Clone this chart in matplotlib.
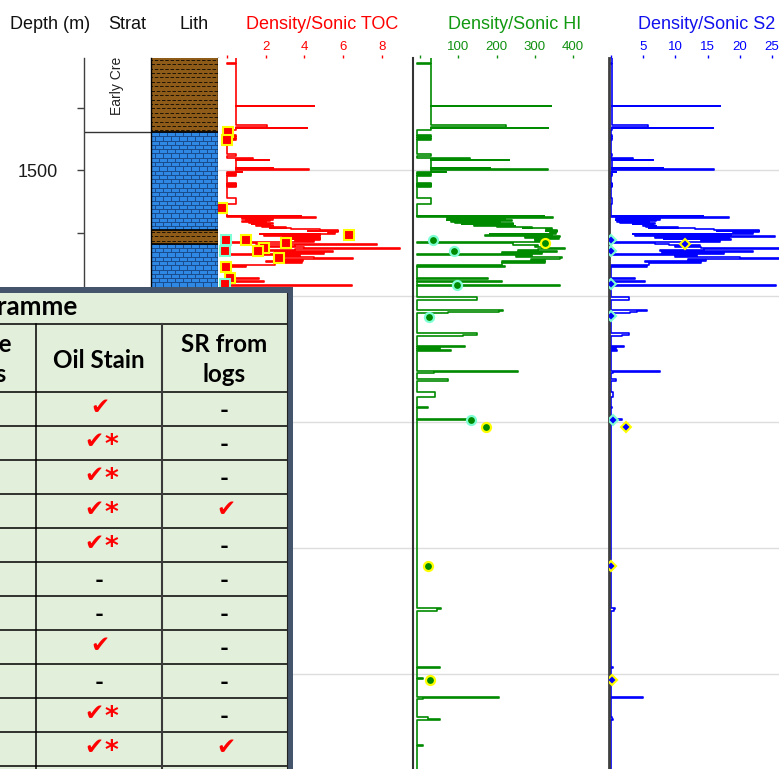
import matplotlib
matplotlib.use('Agg')
import matplotlib.pyplot as plt
from matplotlib.patches import Rectangle
from matplotlib.collections import LineCollection
import numpy as np

plt.rcParams['font.family'] = ['Liberation Sans', 'DejaVu Sans']

# ---------------- data ----------------
depth_m = [1410.0, 1414.3, 1415.6, 1448.5, 1449.0, 1463.8, 1465.4, 1465.9, 1466.5, 1467.8,
           1471.8, 1472.3, 1473.6, 1474.2, 1475.2, 1475.8, 1486.9, 1488.5, 1489.8, 1490.3,
           1490.9, 1491.4, 1491.9, 1497.7, 1498.3, 1498.8, 1499.3, 1500.9, 1501.4, 1502.3,
           1502.8, 1503.6, 1504.1, 1509.7, 1510.6, 1511.1, 1512.0, 1512.5, 1513.4, 1522.1,
           1526.6, 1535.9, 1536.4, 1537.2,
           1537.8, 1538.6, 1539.1, 1539.6, 1540.1, 1540.7, 1541.2, 1541.7, 1542.3, 1542.8,
           1543.3, 1543.9, 1544.4, 1544.9, 1545.4, 1546.0, 1546.5, 1547.0, 1547.8, 1548.4,
           1549.2, 1549.7, 1550.2, 1550.8, 1551.5, 1552.1, 1552.9, 1553.4, 1554.2, 1554.7,
           1555.5, 1556.0, 1556.8, 1557.2, 1557.9, 1558.7, 1559.2, 1560.0, 1560.8, 1561.9,
           1562.4, 1563.2, 1564.0, 1564.8, 1565.6, 1566.4, 1567.2, 1568.0, 1569.0, 1569.8,
           1570.6, 1571.4, 1572.2, 1573.0, 1573.8, 1574.9, 1575.9, 1576.5, 1585.2, 1586.0,
           1587.8, 1588.6, 1591.0, 1591.5, 1600.8, 1603.0, 1610.9, 1611.7, 1612.5, 1613.3,
           1629.5, 1631.0, 1631.8, 1639.3, 1640.0, 1640.8, 1641.6, 1642.7, 1643.5, 1659.4,
           1660.2, 1661.3, 1666.0, 1667.1, 1676.1, 1679.8, 1687.8, 1688.8, 1697.8, 1698.6,
           1848.1, 1848.9, 1849.9, 1895.0, 1895.8, 1903.7, 1904.5, 1918.3, 1919.4, 1920.2,
           1934.7, 1935.8, 1936.6, 1956.7, 1957.5, 1980.0]

toc = [0.45, 0.0, 0.45, 4.5, 0.45, 2.07, 0.45, 4.15, 0.45, 0.0,
       0.45, 0.0, 0.45, 0.0, 0.45, 0.0, 0.45, 0.0, 0.45, 1.32,
       0.45, 2.19, 0.45, 2.36, 0.45, 4.24, 0.45, 0.8, 0.0, 0.45,
       0.0, 0.45, 0.0, 0.45, 0.0, 0.45, 0.0, 0.45, 0.0, 0.45,
       0.0, 3.84, 0.0, 4.62,
       0.8, 2.36, 0.97, 2.2, 0.8, 2.0, 1.15, 2.36, 1.3, 2.2,
       1.5, 2.36, 1.8, 3.06, 2.2, 3.3, 4.8, 5.75, 4.2, 5.75,
       5.2, 5.6, 1.7, 4.8, 1.9, 4.8, 2.9, 4.8, 3.2, 4.8,
       3.5, 4.5, 0.6, 0.0, 1.5, 7.74, 3.5, 2.2, 4.0, 8.96,
       3.5, 2.0, 5.49, 2.5, 5.0, 0.0, 3.75, 3.0, 4.5, 6.53,
       3.0, 3.92, 2.0, 3.9, 2.5, 0.0, 0.97, 0.0, 1.67, 0.0,
       1.9, 0.0, 6.44, 0.0, 1.8, 0.0, 2.6, 2.3, 0.8, 0.0,
       1.5, 1.2, 0.0, 1.2, 0.0, 0.6, 0.0, 0.9, 0.0, 3.0,
       0.5, 0.0, 0.6, 0.0, 0.4, 0.0, 0.3, 0.0, 1.2, 0.0,
       0.6, 0.5, 0.0, 0.5, 0.0, 0.2, 0.0, 2.4, 0.2, 0.0,
       0.3, 0.5, 0.0, 0.2, 0.0, 0.0]

hi = [30, -9, 30, 341, 30, 224, 30, 334, 30, -9,
      30, -9, 30, -9, 30, -9, 30, -9, 30, 131,
      30, 233, 30, 183, 30, 335, 30, 68, -9, 30,
      -9, 30, -9, 30, -9, 30, -9, 30, -9, 30,
      -9, 325, -9, 346,
      70, 222, 70, 240, 80, 210, 91, 244, 109, 244,
      140, 248, 200, 292, 270, 344, 330, 359, 330, 359,
      340, 355, 183, 344, 170, 366, 274, 364, 300, 330,
      300, 318, 120, -9, 244, 244, 309, 300, 318, 379,
      309, 257, 357, 213, 318, -9, 292, 250, 370, 366,
      290, 326, 213, 326, 213, -9, 222, -9, 178, -9,
      213, -9, 366, -9, 148, -9, 218, 205, 74, -9,
      148, 113, -9, 117, -9, 52, -9, 80, -9, 255,
      37, -9, 72, -9, 40, -9, 20, -9, 126, -9,
      55, 45, -9, 52, -9, 9, -9, 206, 9, -9,
      20, 52, -9, 9, -9, -9]

s2 = [0.25, 0.0, 0.25, 17.0, 0.25, 5.8, 0.25, 15.9, 0.25, 0.0,
      0.25, 0.0, 0.25, 0.0, 0.25, 0.0, 0.25, 0.0, 0.25, 3.4,
      0.25, 6.5, 0.25, 8.1, 0.25, 16.0, 0.25, 0.8, 0.0, 0.25,
      0.0, 0.25, 0.0, 0.25, 0.0, 0.25, 0.0, 0.25, 0.0, 0.25,
      0.0, 14.3, 0.0, 18.3,
      0.8, 7.7, 0.8, 7.0, 1.0, 6.0, 1.5, 6.9, 3.5, 6.5,
      5.0, 7.0, 5.5, 10.5, 6.0, 13.0, 16.0, 23.0, 16.5, 23.0,
      19.0, 22.0, 3.5, 18.6, 3.7, 25.4, 6.9, 18.3, 8.2, 18.6,
      14.0, 17.0, 5.0, 0.0, 6.9, 9.0, 13.9, 10.0, 14.0, 27.0,
      14.5, 7.6, 22.0, 8.0, 17.6, 0.0, 13.4, 10.0, 20.0, 27.0,
      12.0, 14.7, 5.3, 14.0, 6.0, 0.0, 5.6, 0.0, 3.75, 0.0,
      5.3, 0.0, 25.6, 0.0, 2.9, 0.0, 5.6, 4.0, 3.0, 0.0,
      2.9, 1.8, 0.0, 2.0, 0.0, 0.8, 0.0, 1.0, 0.0, 7.7,
      0.3, 0.0, 0.8, 0.0, 0.3, 0.0, 0.2, 0.0, 1.7, 0.0,
      0.6, 0.5, 0.0, 0.4, 0.0, 0.1, 0.0, 5.0, 0.1, 0.0,
      0.2, 0.4, 0.0, 0.1, 0.0, 0.0]

# measured sample points
toc_smp_y_depth = [1469.2, 1475.8, 1530.1, 1555.3, 1551.3, 1557.9, 1561.4, 1563.8, 1569.8, 1576.5, 1585.2]
toc_smp_y_val = [0.07, -0.02, -0.24, 0.97, 6.3, 3.06, 1.91, 1.59, 2.70, -0.05, 0.14]
toc_smp_c_depth = [1555.3, 1563.8, 1590.2]
toc_smp_c_val = [-0.07, -0.12, -0.12]

hi_smp_y_depth = [1557.9, 1704.2, 1814.4, 1905.1]
hi_smp_y_val = [326, 172, 20, 27]
hi_smp_c_depth = [1555.3, 1564.0, 1591.3, 1616.2, 1698.4]
hi_smp_c_val = [33, 90, 96, 23, 134]

s2_smp_y_depth = [1558.2, 1704.2, 1814.4, 1905.1]
s2_smp_y_val = [11.5, 2.4, 0.1, 0.15]
s2_smp_c_depth = [1555.3, 1564.0, 1590.5, 1615.7, 1698.4]
s2_smp_c_val = [0.0, 0.0, 0.1, 0.1, 0.4]

# lithology / stratigraphy
lith_top = [1400.0, 1469.5, 1547.3, 1558.4]
lith_base = [1469.5, 1547.3, 1558.4, 1990.0]
lith_type = ['shale', 'limestone', 'shale', 'limestone']
strat_boundary = [1469.5]
strat_label = 'Early Cretaceous'
strat_label_base = 1455.9

depth_major = [1500, 1600, 1700, 1800, 1900]
depth_minor = [1450, 1550, 1650, 1750, 1850, 1950]

toc_ticks = [0, 2, 4, 6, 8]
hi_ticks = [0, 100, 200, 300, 400]
s2_ticks = [0, 5, 10, 15, 20, 25]

# table
oil_stain = ['✓', '✓*', '✓*', '✓*', '✓*', '-', '-', '✓', '-', '✓*', '✓*']
sr_from_logs = ['-', '-', '-', '✓', '-', '-', '-', '-', '-', '-', '✓']

# ---------------- figure ----------------
W, H = 779, 769
fig = plt.figure(figsize=(W / 100, H / 100), dpi=100)
D_TOP, D_BOT = 1410.6, 1975.8
Y_TOP = 58


def fx(x):
    return x / W


def fy(y):
    return 1 - y / H


def add_ax(x0, x1, y0=Y_TOP, y1=H):
    ax = fig.add_axes([fx(x0), fy(y1), (x1 - x0) / W, (y1 - y0) / H])
    ax.set_ylim(D_BOT, D_TOP)
    return ax


# strat column with depth axis
ax_s = add_ax(84, 151)
ax_s.set_xlim(0, 1)
for s in ['top', 'right', 'bottom']:
    ax_s.spines[s].set_visible(False)
ax_s.spines['left'].set_color('#404040')
ax_s.spines['left'].set_linewidth(1.0)
ax_s.set_xticks([])
ax_s.set_yticks(depth_major)
ax_s.set_yticklabels([str(d) for d in depth_major])
ax_s.set_yticks(depth_minor, minor=True)
ax_s.tick_params(axis='y', which='both', length=4.8, width=1, color='#404040', pad=14,
                 labelsize=13, labelcolor='#1a1a1a')
for b in strat_boundary:
    ax_s.axhline(b, color='#333333', lw=1.0)
ax_s.text(0.5, strat_label_base, strat_label, rotation=90, ha='center', va='bottom',
          fontsize=10, color='#222222', transform=ax_s.get_yaxis_transform(), clip_on=True)

# lith column
ax_l = add_ax(151, 218)
ax_l.set_xlim(0, 1)
ax_l.set_xticks([])
ax_l.set_yticks([])
for s in ['top', 'bottom']:
    ax_l.spines[s].set_visible(False)
for s in ['left', 'right']:
    ax_l.spines[s].set_color('black')
    ax_l.spines[s].set_linewidth(1.0)


def draw_shale(ax, top, base):
    ax.add_patch(Rectangle((0, top), 1, base - top, fc='#8E5B18', ec='none', zorder=1))
    for k, d in enumerate(np.arange(top + 1.6, base, 3.5)):
        ax.plot([0, 1], [d, d], color='#1E1405', lw=0.7,
                ls=(2.0 * (k % 2), (3.6, 1.8)), zorder=2)


def draw_limestone(ax, top, base):
    ax.add_patch(Rectangle((0, top), 1, base - top, fc='#2F88E3', ec='none', zorder=1))
    segs = []
    for k, d in enumerate(np.arange(top, base, 3.4)):
        segs.append([(0, d), (1, d)])
        off = 0.06 if k % 2 else 0.0
        for x in np.arange(off, 1.0, 0.12):
            segs.append([(x, d), (x, min(d + 3.4, base))])
    ax.add_collection(LineCollection(segs, colors='#1A4C8C', linewidths=0.7, zorder=2))


for t, b, kind in zip(lith_top, lith_base, lith_type):
    if kind == 'shale':
        draw_shale(ax_l, t, b)
    else:
        draw_limestone(ax_l, t, b)
for b in lith_base[:-1]:
    ax_l.axhline(b, color='black', lw=1.2, zorder=3)


def setup_track(ax, xlim, ticks, color):
    ax.set_xlim(*xlim)
    ax.xaxis.tick_top()
    ax.set_xticks(ticks)
    ax.set_xticklabels([''] + [str(t) for t in ticks[1:]])
    ax.tick_params(axis='x', colors=color, length=2, width=1, pad=1.5, labelsize=9.5)
    ax.set_yticks([])
    for s in ax.spines.values():
        s.set_visible(False)
    for g in depth_major:
        ax.axhline(g, color='#DDDDDD', lw=1, zorder=0)


ax_t = add_ax(218, 413)
setup_track(ax_t, ((218 - 227) / 19.35, (413 - 227) / 19.35), toc_ticks, '#FF0000')
ax_t.plot(toc, depth_m, color='#FF0000', lw=1.2, drawstyle='steps-pre', zorder=2)
ax_t.plot(toc_smp_y_val, toc_smp_y_depth, ls='none', marker='s', ms=7, mfc='#FF0000',
          mec='#FFFF00', mew=1.5, zorder=4)
ax_t.plot(toc_smp_c_val, toc_smp_c_depth, ls='none', marker='s', ms=7, mfc='#FF0000',
          mec='#7FFFD4', mew=1.5, zorder=4)

ax_h = add_ax(413, 609)
setup_track(ax_h, ((413 - 420) / 0.383, (609 - 420) / 0.383), hi_ticks, '#109010')
ax_h.spines['left'].set_visible(True)
ax_h.spines['left'].set_color('#333333')
ax_h.spines['left'].set_linewidth(1.5)
ax_h.plot(hi, depth_m, color='#008A00', lw=1.2, drawstyle='steps-pre', zorder=2)
ax_h.plot(hi_smp_y_val, hi_smp_y_depth, ls='none', marker='o', ms=6.5, mfc='#008A00',
          mec='#FFFF00', mew=1.6, zorder=4)
ax_h.plot(hi_smp_c_val, hi_smp_c_depth, ls='none', marker='o', ms=6.5, mfc='#008A00',
          mec='#7FFFD4', mew=1.6, zorder=4)

ax_2 = add_ax(609, 779)
setup_track(ax_2, ((609 - 610.75) / 6.45, (779 - 610.75) / 6.45), s2_ticks, '#0000FF')
ax_2.spines['left'].set_visible(True)
ax_2.spines['left'].set_color('#404040')
ax_2.spines['left'].set_linewidth(2.0)
ax_2.plot(s2, depth_m, color='#0000FF', lw=1.2, drawstyle='steps-pre', zorder=2)
ax_2.plot(s2_smp_y_val, s2_smp_y_depth, ls='none', marker='D', ms=5.5, mfc='#0000FF',
          mec='#FFFF00', mew=1.5, zorder=4)
ax_2.plot(s2_smp_c_val, s2_smp_c_depth, ls='none', marker='D', ms=5.5, mfc='#0000FF',
          mec='#7FFFD4', mew=1.5, zorder=4)

# headers
hdr = [('Depth (m)', 50.5, '#111111'), ('Strat', 127.7, '#111111'), ('Lith', 193.7, '#111111'),
       ('Density/Sonic TOC', 322.5, '#FF0000'), ('Density/Sonic HI', 514.7, '#119911'),
       ('Density/Sonic S2', 707.0, '#1111EE')]
for txt, x, c in hdr:
    fig.text(fx(x), fy(29), txt, ha='center', va='baseline', fontsize=13, color=c)

# ---------------- table overlay ----------------
tab = fig.add_axes([0, 0, 293 / W, (H - 287) / H])
tab.set_xlim(0, 293)
tab.set_ylim(H, 287)
tab.axis('off')
tab.add_patch(Rectangle((0, 287), 293, H - 287, fc='#44546A', ec='none'))
tab.add_patch(Rectangle((0, 293), 287, H - 293, fc='#E2EFDA', ec='none'))

row_top0, row_h = 392, 34
hlines = [323.5] + [row_top0 + row_h * i for i in range(len(oil_stain) + 1)]
for y in hlines:
    tab.plot([0, 287], [y, y], color='black', lw=1.1)
tab.plot([36, 36], [323.5, H], color='black', lw=1.1)
tab.plot([162, 162], [323.5, H], color='#3A3A3A', lw=1.5)
tab.plot([287, 287], [293, H], color='#222222', lw=0.8)

tf = dict(family=['Lato', 'DejaVu Sans'], fontweight='bold', color='black', fontsize=17.4)
tab.text(78, 315, 'Programme', ha='right', va='baseline',
         **{**tf, 'fontsize': 18.8})
tab.text(12, 351.7, 'Core', ha='right', va='baseline', **tf)
tab.text(6.5, 382.5, 'samples', ha='right', va='baseline', **tf)
tab.text(99, 367.7, 'Oil Stain', ha='center', va='baseline', **tf)
tab.text(224.5, 351.7, 'SR from', ha='center', va='baseline', **tf)
tab.text(224.5, 381.7, 'logs', ha='center', va='baseline', **tf)

ck = dict(ha='center', va='baseline', fontsize=16.5, family='DejaVu Sans', color='#FF0000')


def cell(xc, top, val):
    if val == '-':
        tab.text(xc, top + 25.5, '-', ha='center', va='baseline', **tf)
    elif val == '✓':
        tab.text(xc + 1, top + 22.5, '✔', **ck)
    else:
        tab.text(xc - 5.5, top + 22.5, '✔', **ck)
        tab.text(xc + 12, top + 27, '*', ha='center', va='baseline', fontsize=19,
                 family='DejaVu Sans', fontweight='bold', color='#FF0000')


for i, (o, s) in enumerate(zip(oil_stain, sr_from_logs)):
    top = row_top0 + row_h * i
    cell(99, top, o)
    cell(224.5, top, s)

fig.savefig('out.png', dpi=100)
